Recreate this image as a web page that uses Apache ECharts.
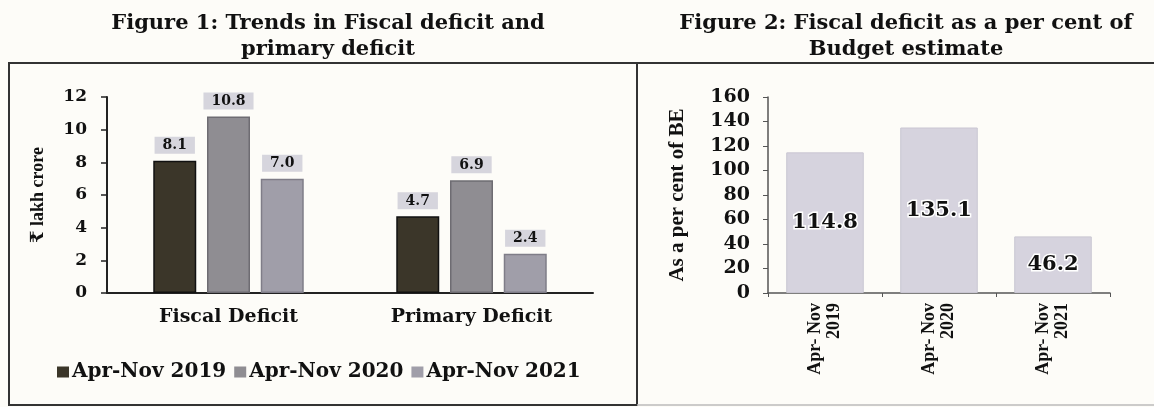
<!DOCTYPE html>
<html>
<head>
<meta charset="utf-8">
<script src="https://cdn.jsdelivr.net/npm/echarts@6/dist/echarts.min.js"></script>
<style>
html,body{margin:0;padding:0;background:#fdfcf8;}
#chart{width:1154px;height:407px;}
</style>
</head>
<body>
<div id="chart"></div>
<script>
// ---- Data ----
const categories1 = ['Fiscal Deficit', 'Primary Deficit'];
const seriesNames1 = ['Apr-Nov 2019', 'Apr-Nov 2020', 'Apr-Nov 2021'];
const values2019 = [8.1, 4.7];
const values2020 = [10.8, 6.9];
const values2021 = [7.0, 2.4];
const yTicks1 = { min: 0, max: 12, interval: 2 };

const categories2 = ['Apr- Nov\n2019', 'Apr- Nov\n2020', 'Apr- Nov\n2021'];
const pctOfBE = [114.8, 135.1, 46.2];
const yTicks2 = { min: 0, max: 160, interval: 20 };

// ---- Styles ----
const WIDE = '"DejaVu Serif", "Liberation Serif", serif';
const SERIF = '"Liberation Serif", "DejaVu Serif", serif';
const colors1 = ['#3b3629', '#8f8d92', '#a09ea9'];
const borders1 = ['#111111', '#6e6c72', '#7f7d88'];

const chart = echarts.init(document.getElementById('chart'), null, { renderer: 'canvas' });

function bar1(name, data, i) {
  return {
    name: name,
    type: 'bar',
    xAxisIndex: 0, yAxisIndex: 0,
    data: data,
    barWidth: 43,
    barGap: '25%',
    itemStyle: { color: colors1[i], borderColor: borders1[i], borderWidth: 1.5 },
    label: {
      show: true, position: 'top', distance: 7,
      formatter: p => p.value.toFixed(1),
      fontFamily: WIDE, fontWeight: 'bold', fontSize: 14, color: '#111',
      backgroundColor: '#d6d5dd', padding: [2, 8, 1, 8]
    }
  };
}

const option = {
  backgroundColor: '#fdfcf8',
  animation: false,
  title: [
    { text: 'Figure 1: Trends in Fiscal deficit and\nprimary deficit', left: 323, top: 6, textAlign: 'center',
      textStyle: { fontFamily: WIDE, fontWeight: 'bold', fontSize: 21, lineHeight: 26, color: '#111' } },
    { text: 'Figure 2: Fiscal deficit as a per cent of\nBudget estimate', left: 901, top: 6, textAlign: 'center',
      textStyle: { fontFamily: WIDE, fontWeight: 'bold', fontSize: 21, lineHeight: 26, color: '#111' } }
  ],
  legend: {
    data: seriesNames1,
    left: 52, top: 357,
    orient: 'horizontal',
    icon: 'rect', itemWidth: 12, itemHeight: 11, itemGap: 8,
    itemStyle: { borderWidth: 0 },
    textStyle: { fontFamily: WIDE, fontWeight: 'bold', fontSize: 20, color: '#111', padding: [0, 0, 0, -2] }
  },
  graphic: [
    { type: 'rect', shape: { x: 9, y: 63, width: 628, height: 342 }, style: { fill: 'none', stroke: '#333', lineWidth: 2 } },
    { type: 'line', shape: { x1: 637, y1: 63, x2: 1154, y2: 63 }, style: { stroke: '#333', lineWidth: 2 } },
    { type: 'line', shape: { x1: 637, y1: 405, x2: 1154, y2: 405 }, style: { stroke: '#bbb', lineWidth: 1.5 } }
  ],
  grid: [
    { left: 107, top: 97, width: 486, height: 196 },
    { left: 768, top: 97, width: 342, height: 196 }
  ],
  xAxis: [
    { type: 'category', gridIndex: 0, data: categories1,
      axisLine: { lineStyle: { color: '#222', width: 2 } },
      axisTick: { show: false },
      axisLabel: { fontFamily: WIDE, fontWeight: 'bold', fontSize: 19, color: '#111', margin: 15 } },
    { type: 'category', gridIndex: 1, data: categories2,
      axisLine: { lineStyle: { color: '#555', width: 1.5 } },
      axisTick: { show: true, length: 4, lineStyle: { color: '#555' } },
      axisLabel: { rotate: 90, fontFamily: SERIF, fontWeight: 'bold', fontSize: 18, lineHeight: 19, color: '#111', margin: 10 } }
  ],
  yAxis: [
    { type: 'value', gridIndex: 0, min: yTicks1.min, max: yTicks1.max, interval: yTicks1.interval,
      name: '₹ lakh crore', nameLocation: 'middle', nameGap: 60, nameRotate: 90,
      nameTextStyle: { fontFamily: SERIF, fontWeight: 'bold', fontSize: 18, color: '#111' },
      axisLine: { show: true, lineStyle: { color: '#222', width: 2 } },
      axisTick: { show: true, length: 6, lineStyle: { color: '#222', width: 1.5 } },
      splitLine: { show: false },
      axisLabel: { fontFamily: WIDE, fontWeight: 'bold', fontSize: 17, color: '#111', margin: 20 } },
    { type: 'value', gridIndex: 1, min: yTicks2.min, max: yTicks2.max, interval: yTicks2.interval,
      name: 'As a per cent of BE', nameLocation: 'middle', nameGap: 80, nameRotate: 90,
      nameTextStyle: { fontFamily: SERIF, fontWeight: 'bold', fontSize: 21, color: '#111' },
      axisLine: { show: true, lineStyle: { color: '#555', width: 1.5 } },
      axisTick: { show: true, length: 5, lineStyle: { color: '#555' } },
      splitLine: { show: false },
      axisLabel: { fontFamily: WIDE, fontWeight: 'bold', fontSize: 19, color: '#111', margin: 18 } }
  ],
  series: [
    bar1(seriesNames1[0], values2019, 0),
    bar1(seriesNames1[1], values2020, 1),
    bar1(seriesNames1[2], values2021, 2),
    { name: 'As a per cent of BE', type: 'bar', xAxisIndex: 1, yAxisIndex: 1,
      data: pctOfBE, barWidth: '68%',
      itemStyle: { color: '#d6d3de', borderColor: '#c9c6d2', borderWidth: 1 },
      label: { show: true, position: 'inside', formatter: p => p.value.toFixed(1),
        fontFamily: WIDE, fontWeight: 'bold', fontSize: 21, color: '#111',
        textBorderColor: '#ffffff', textBorderWidth: 3 } }
  ]
};
chart.setOption(option);
</script>
</body>
</html>
